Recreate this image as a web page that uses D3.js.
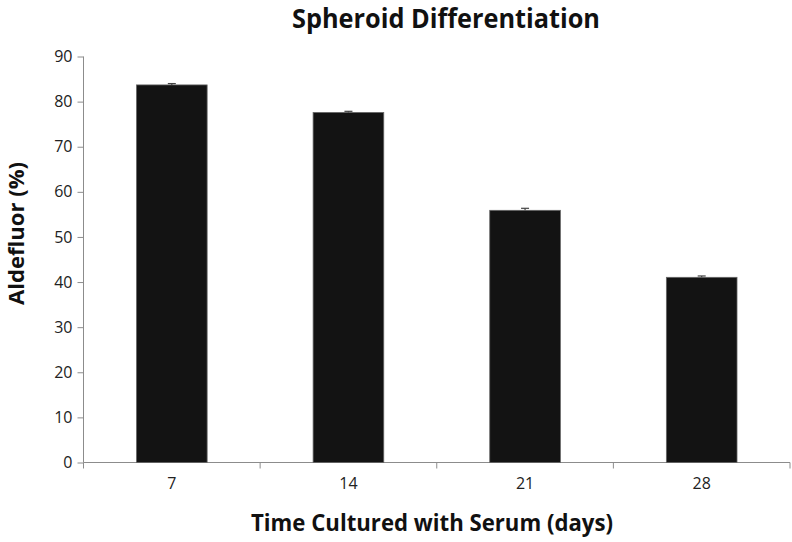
<!DOCTYPE html>
<html>
<head>
<script src="https://d3js.org/d3.v7.min.js"></script>
<style>
  body { margin: 0; background: #fff; }
  svg text { font-family: "Open Sans", "Liberation Sans", sans-serif; }
</style>
</head>
<body>
<div id="chart"></div>
<script>
const days = ['7', '14', '21', '28']
const aldefluor = [83.7, 77.6, 55.9, 41.05]
const errors = [0.3, 0.25, 0.45, 0.3]
const yTicks = [0, 10, 20, 30, 40, 50, 60, 70, 80, 90]

const w = 792, h = 542
const padLeft = 83.5, padRight = 790, padTop = 56.5, padBottom = 462.5

const svg = d3.select('#chart').append('svg')
  .attr('width', w).attr('height', h)

const x = d3.scaleBand().domain(days).range([padLeft, padRight]).paddingInner(0.6).paddingOuter(0.3)
const y = d3.scaleLinear().domain([0, 90]).range([padBottom, padTop])

// y axis
const yAxis = svg.append('g')
  .attr('transform', 'translate(' + padLeft + ',0)')
  .call(d3.axisLeft(y).tickValues(yTicks).tickSize(6).tickPadding(5))
yAxis.select('.domain').attr('stroke', '#8c8c8c').attr('d', 'M0,' + padTop + 'V' + padBottom)
yAxis.selectAll('.tick line').attr('stroke', '#8c8c8c')
yAxis.selectAll('.tick text').attr('font-size', 16).attr('fill', '#222')

// x axis with ticks at category boundaries
const xg = svg.append('g').attr('transform', 'translate(0,' + padBottom + ')')
xg.append('line').attr('x1', padLeft).attr('x2', padRight).attr('stroke', '#8c8c8c')
const bounds = d3.range(days.length + 1).map(i => padLeft + i * (padRight - padLeft) / days.length)
xg.selectAll('.bt').data(bounds).enter().append('line')
  .attr('x1', d => d).attr('x2', d => d).attr('y1', 0).attr('y2', 6)
  .attr('stroke', '#8c8c8c')
xg.selectAll('.lbl').data(days).enter().append('text')
  .attr('x', d => x(d) + x.bandwidth() / 2)
  .attr('y', 26)
  .attr('text-anchor', 'middle')
  .attr('font-size', 16).attr('fill', '#222')
  .text(d => d)

// bars
svg.selectAll('.bar').data(days).enter().append('rect')
  .attr('x', d => x(d))
  .attr('width', x.bandwidth())
  .attr('y', (d, i) => y(aldefluor[i]))
  .attr('height', (d, i) => padBottom - y(aldefluor[i]))
  .attr('fill', '#131313')
  .attr('stroke', '#666').attr('stroke-width', 0.8)

// error bars
days.forEach((d, i) => {
  const cx = x(d) + x.bandwidth() / 2
  const g = svg.append('g').attr('stroke', '#444').attr('stroke-width', 1.2)
  g.append('line').attr('x1', cx).attr('x2', cx)
    .attr('y1', y(aldefluor[i])).attr('y2', y(aldefluor[i] + errors[i]))
  g.append('line').attr('x1', cx - 4).attr('x2', cx + 4)
    .attr('y1', y(aldefluor[i] + errors[i])).attr('y2', y(aldefluor[i] + errors[i]))
})

// titles (squeezed to the narrow reference lettering)
svg.append('text')
  .attr('x', 292).attr('y', 28)
  .attr('font-weight', 'bold').attr('font-size', 26).attr('fill', '#111')
  .attr('textLength', 308).attr('lengthAdjust', 'spacingAndGlyphs')
  .text('Spheroid Differentiation')

svg.append('text')
  .attr('x', 251).attr('y', 531)
  .attr('font-weight', 'bold').attr('font-size', 23).attr('fill', '#111')
  .attr('textLength', 362).attr('lengthAdjust', 'spacingAndGlyphs')
  .text('Time Cultured with Serum (days)')

svg.append('text')
  .attr('transform', 'translate(24,305) rotate(-90)')
  .attr('font-weight', 'bold').attr('font-size', 22).attr('fill', '#111')
  .attr('textLength', 143).attr('lengthAdjust', 'spacingAndGlyphs')
  .text('Aldefluor (%)')
</script>
</body>
</html>
